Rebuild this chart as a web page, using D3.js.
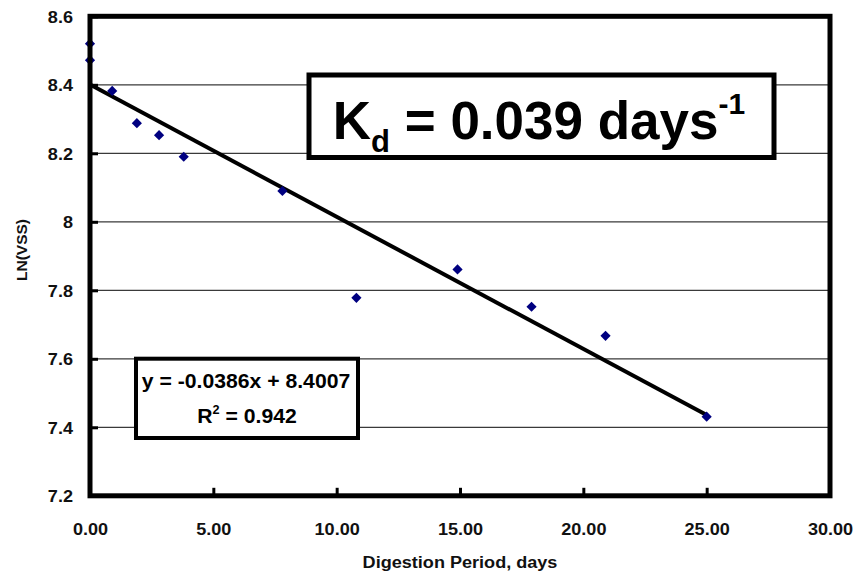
<!DOCTYPE html>
<html>
<head>
<meta charset="utf-8">
<script src="https://cdn.jsdelivr.net/npm/d3@7/dist/d3.min.js"></script>
<style>
  html, body { margin: 0; padding: 0; background: #fff; }
  svg text { font-family: "Liberation Sans", Arial, sans-serif; font-weight: bold; }
</style>
</head>
<body>
<svg id="chart" width="856" height="576"></svg>
<script>
// ---- data ----
const days   = [0, 0, 0.9, 1.9, 2.8, 3.8, 7.8, 10.8, 14.9, 17.9, 20.9, 25];
const lnVSS  = [8.52, 8.472, 8.382, 8.288, 8.253, 8.19, 8.09, 7.778, 7.861, 7.752, 7.667, 7.431];
const trendSlope = -0.0386;
const trendIntercept = 8.4007;
const trendRange = [0, 25];
const xTicks = [0, 5, 10, 15, 20, 25, 30];
const xTickLabels = ["0.00", "5.00", "10.00", "15.00", "20.00", "25.00", "30.00"];
const yTicks = [7.2, 7.4, 7.6, 7.8, 8.0, 8.2, 8.4, 8.6];
const yTickLabels = ["7.2", "7.4", "7.6", "7.8", "8", "8.2", "8.4", "8.6"];
const xTitle = "Digestion Period, days";
const yTitle = "LN(VSS)";
const eqLine1 = "y = -0.0386x + 8.4007";
const eqR2 = "0.942";

// ---- layout ----
const FONT = '"Liberation Sans", Arial, sans-serif';
const svg = d3.select("#chart");
const L = 90, R = 830, T = 16.3, B = 495.8;
const x = d3.scaleLinear().domain([0, 30]).range([L, R]);
const y = d3.scaleLinear().domain([7.2, 8.6]).range([B, T]);
const SX = 1.13;

// gridlines
svg.append("g")
  .selectAll("line")
  .data(yTicks.slice(1, -1))
  .join("line")
  .attr("x1", L).attr("x2", R)
  .attr("y1", d => y(d)).attr("y2", d => y(d))
  .attr("stroke", "#3a3a3a").attr("stroke-width", 1.2);

// x axis (inside ticks)
const gx = svg.append("g").attr("transform", `translate(0,${B})`)
  .call(d3.axisBottom(x).tickValues(xTicks).tickSize(-8)
        .tickFormat((d, i) => xTickLabels[i]));
gx.attr("font-family", FONT).attr("font-size", 16);
gx.select(".domain").remove();
gx.selectAll(".tick line").attr("stroke", "#000").attr("stroke-width", 3);
gx.selectAll(".tick text")
  .attr("y", null).attr("dy", null)
  .attr("transform", `translate(0,39) scale(${SX},1)`)
  .attr("text-anchor", "middle")
  .attr("fill", "#111");

// y axis (inside ticks)
const gy = svg.append("g").attr("transform", `translate(${L},0)`)
  .call(d3.axisLeft(y).tickValues(yTicks).tickSize(-8)
        .tickFormat((d, i) => yTickLabels[i]));
gy.attr("font-family", FONT).attr("font-size", 16);
gy.select(".domain").remove();
gy.selectAll(".tick line").attr("stroke", "#000").attr("stroke-width", 3);
gy.selectAll(".tick text")
  .attr("x", null).attr("dy", null)
  .attr("transform", `translate(-17,6) scale(${SX},1)`)
  .attr("text-anchor", "end")
  .attr("fill", "#111");

// trendline
const line = d3.line().x(d => x(d)).y(d => y(trendSlope * d + trendIntercept));
svg.append("path")
  .datum(trendRange)
  .attr("d", line)
  .attr("fill", "none")
  .attr("stroke", "#000")
  .attr("stroke-width", 4);

// points
const pts = days.map((d, i) => [d, lnVSS[i]]);
const diamond = d3.symbol().type(d3.symbolSquare).size(52);
svg.append("g")
  .selectAll("path")
  .data(pts)
  .join("path")
  .attr("d", diamond)
  .attr("transform", d => `translate(${x(d[0])},${y(d[1])}) rotate(45)`)
  .attr("fill", "#000080");

// Kd box
svg.append("rect")
  .attr("x", 309).attr("y", 75).attr("width", 465).attr("height", 82.5)
  .attr("fill", "#fff").attr("stroke", "#000").attr("stroke-width", 5);
const kd = svg.append("text")
  .attr("x", 539).attr("y", 138.5)
  .attr("text-anchor", "middle")
  .style("font-size", "53px").attr("fill", "#000");
kd.append("tspan").text("K");
kd.append("tspan").attr("dy", 13).style("font-size", "31px").text("d");
kd.append("tspan").attr("dy", -13).text(" = 0.039 days");
kd.append("tspan").attr("dy", -25).style("font-size", "30px").text("-1");

// equation box
svg.append("rect")
  .attr("x", 136).attr("y", 358.7).attr("width", 222).attr("height", 79.3)
  .attr("fill", "#fff").attr("stroke", "#000").attr("stroke-width", 4);
svg.append("text")
  .attr("transform", `translate(246,388) scale(1.06,1)`)
  .attr("text-anchor", "middle")
  .style("font-size", "20px")
  .text(eqLine1);
const r2 = svg.append("text")
  .attr("transform", `translate(247,423) scale(1.06,1)`)
  .attr("text-anchor", "middle")
  .style("font-size", "20px");
r2.append("tspan").text("R");
r2.append("tspan").attr("dy", -9).style("font-size", "12px").text("2");
r2.append("tspan").attr("dy", 9).text(" = " + eqR2);

// plot border
svg.append("rect")
  .attr("x", L).attr("y", T).attr("width", R - L).attr("height", B - T)
  .attr("fill", "none").attr("stroke", "#000").attr("stroke-width", 5);

// axis titles
svg.append("text")
  .attr("transform", `translate(460,568) scale(${SX},1)`)
  .attr("text-anchor", "middle")
  .style("font-size", "16px").attr("fill", "#111")
  .text(xTitle);
svg.append("text")
  .attr("transform", `translate(26.5,250) rotate(-90)`)
  .attr("text-anchor", "middle")
  .style("font-size", "15.5px").attr("fill", "#111")
  .text(yTitle);
</script>
</body>
</html>
